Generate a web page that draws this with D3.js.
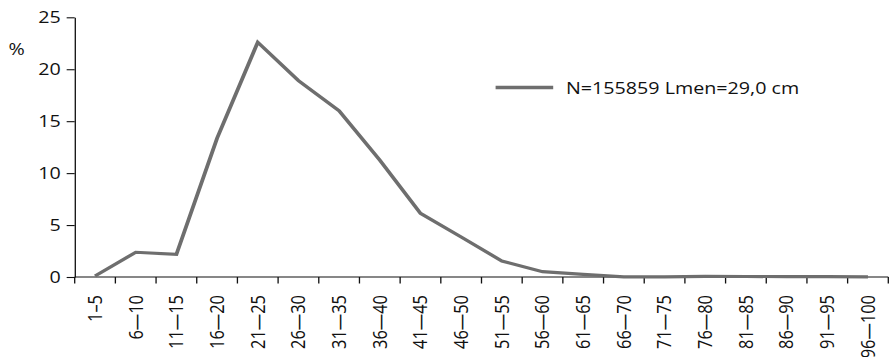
<!DOCTYPE html>
<html>
<head>
<meta charset="utf-8">
<script src="https://cdn.jsdelivr.net/npm/d3@7"></script>
<style>
  body { margin: 0; background: #fff; }
  text { font-family: "Open Sans", sans-serif; fill: #111; }
</style>
</head>
<body>
<svg id="chart"></svg>
<script>
// length classes (cm) and share of catch (%)
var classes = ["1–5", "6—10", "11—15", "16—20", "21—25", "26—30", "31—35", "36—40",
  "41—45", "46—50", "51—55", "56—60", "61—65", "66—70", "71—75", "76—80",
  "81—85", "86—90", "91—95", "96—100"];
var percent = [0.1, 2.38, 2.18, 13.35, 22.6, 18.9, 16.0, 11.26, 6.13, 3.85,
  1.54, 0.51, 0.25, 0.02, 0.02, 0.06, 0.05, 0.04, 0.03, 0.01];
var yTicks = [0, 5, 10, 15, 20, 25];
var legendLabel = "N=155859 Lmen=29,0 cm";

// the original picture is stretched sideways, so draw in narrower units
var stretch = 1.2,
    width = 890, height = 357,
    vw = width / stretch;

var svg = d3.select("#chart")
    .attr("width", width)
    .attr("height", height)
    .attr("viewBox", "0 0 " + vw + " " + height)
    .attr("preserveAspectRatio", "none");

var mLeft = 62.25, mRight = 740.25, mTop = 17.3, mBottom = 277;

var x = d3.scaleBand().domain(classes).range([mLeft, mRight]);
var y = d3.scaleLinear().domain([0, 25]).range([mBottom, mTop]);

// y axis
var yAxis = svg.append("g")
    .attr("transform", "translate(" + mLeft + ",0)")
    .call(d3.axisLeft(y).tickValues(yTicks).tickSize(6.7).tickSizeOuter(0).tickPadding(5));
yAxis.selectAll("text").style("font-size", "16.4px").attr("font-family", null);
yAxis.selectAll("line, path").attr("stroke", "#111").attr("stroke-width", 1.1);

svg.append("text")
    .attr("x", 13.9)
    .attr("y", 55)
    .attr("text-anchor", "middle")
    .style("font-size", "16.4px")
    .text("%");

// x axis: ticks sit on the class boundaries
var xAxis = svg.append("g")
    .attr("transform", "translate(0," + mBottom + ")");

xAxis.append("line")
    .attr("x1", mLeft).attr("x2", mRight)
    .attr("stroke", "#111").attr("stroke-width", 1.1);

var bounds = classes.map(function(c) { return x(c); }).concat([mRight]);
xAxis.selectAll(".tick")
    .data(bounds)
    .enter().append("line")
      .attr("class", "tick")
      .attr("x1", function(d) { return d; })
      .attr("x2", function(d) { return d; })
      .attr("y1", 0)
      .attr("y2", 6.5)
      .attr("stroke", "#111")
      .attr("stroke-width", 1.1);

xAxis.selectAll(".lab")
    .data(classes)
    .enter().append("text")
      .attr("class", "lab")
      .attr("transform", function(d) {
        return "translate(" + (x(d) + x.bandwidth() / 2) + ",18) rotate(-90)";
      })
      .attr("dy", "0.35em")
      .attr("text-anchor", "end")
      .style("font-size", "16.4px")
      .text(function(d) { return d; });

// data line
var line = d3.line()
    .x(function(d, i) { return x(classes[i]) + x.bandwidth() / 2; })
    .y(function(d) { return y(d); });

svg.append("path")
    .datum(percent)
    .attr("d", line)
    .attr("fill", "none")
    .attr("stroke", "#6e6e6e")
    .attr("stroke-width", 3.2)
    .attr("stroke-linejoin", "miter");

// legend
var legend = svg.append("g");
legend.append("line")
    .attr("x1", 413).attr("x2", 461)
    .attr("y1", 87.5).attr("y2", 87.5)
    .attr("stroke", "#6e6e6e")
    .attr("stroke-width", 3.6);
legend.append("text")
    .attr("x", 471.7)
    .attr("y", 94)
    .style("font-size", "16.4px")
    .text(legendLabel);
</script>
</body>
</html>
